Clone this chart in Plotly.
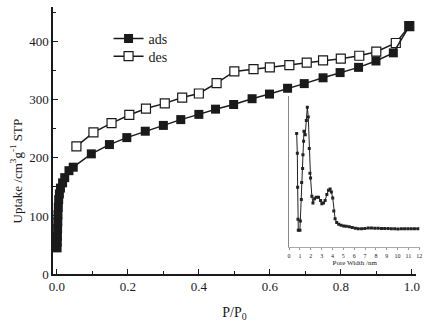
import plotly.graph_objects as go

# Main isotherm data
ads_x = [0.0005, 0.001, 0.0015, 0.002, 0.0025, 0.003, 0.004, 0.005, 0.007, 0.010, 0.016, 0.022, 0.034, 0.046,
         0.097, 0.148, 0.197, 0.249, 0.300, 0.349, 0.400, 0.447, 0.498, 0.550, 0.599, 0.650, 0.697, 0.750,
         0.798, 0.850, 0.899, 0.948, 0.993]
ads_y = [45, 55, 65, 78, 90, 102, 115, 128, 138, 148, 157, 166, 178, 184,
         207, 223, 235, 246, 256, 266, 275, 284, 292, 302, 310, 320, 328, 338,
         347, 356, 367, 381, 427]

des_x = [0.993, 0.955, 0.900, 0.852, 0.800, 0.750, 0.704, 0.655, 0.600, 0.554, 0.500, 0.450,
         0.400, 0.353, 0.304, 0.251, 0.204, 0.154, 0.103, 0.055]
des_y = [427, 398, 383, 376, 371, 368, 364, 360, 356, 353, 349, 329,
         311, 304, 294, 285, 274, 260, 244, 220]

# Inset pore size distribution
pw_x = [0.70, 0.76, 0.79, 0.82, 0.85, 1.00, 1.04, 1.13, 1.16, 1.25, 1.28, 1.34, 1.37, 1.49, 1.59, 1.68,
        1.77, 1.86, 1.92, 1.98, 2.10, 2.20, 2.35, 2.50, 2.71, 2.90, 3.02, 3.17, 3.32, 3.48, 3.63, 3.78,
        3.90, 4.02, 4.12, 4.24, 4.39, 4.57, 4.79, 5.03, 5.27, 5.55, 5.82, 6.10, 6.37, 6.68, 6.98, 7.29,
        7.59, 7.90, 8.20, 8.51, 8.81, 9.12, 9.42, 9.73, 10.03, 10.34, 10.64, 10.95, 11.25, 11.55, 11.86]
pw_y = [0.750, 0.620, 0.396, 0.185, 0.113, 0.113, 0.174, 0.315, 0.428, 0.520, 0.610, 0.700, 0.765, 0.743,
        0.837, 0.924, 0.859, 0.652, 0.489, 0.457, 0.337, 0.293, 0.320, 0.330, 0.330, 0.309, 0.287, 0.293,
        0.309, 0.348, 0.376, 0.385, 0.365, 0.326, 0.239, 0.189, 0.163, 0.152, 0.146, 0.141, 0.139, 0.135,
        0.130, 0.126, 0.122, 0.122, 0.124, 0.128, 0.128, 0.126, 0.126, 0.124, 0.124, 0.124, 0.122, 0.122,
        0.120, 0.122, 0.122, 0.122, 0.122, 0.122, 0.122]

x_ticks = [0.0, 0.2, 0.4, 0.6, 0.8, 1.0]
x_ticklabels = ["0.0", "0.2", "0.4", "0.6", "0.8", "1.0"]
y_ticks = [0, 100, 200, 300, 400]
inset_ticks = list(range(0, 13))

FONT = "Liberation Serif"

W, H = 432, 325
L, R, T, B = 53, 8, 7, 48
pw = W - L - R
ph = H - T - B

def px_x(p):
    return (p - L) / pw

def px_y(p):
    return (H - B - p) / ph

fig = go.Figure()
fig.add_trace(go.Scatter(
    x=des_x, y=des_y, name="des", mode="lines+markers", legend="legend2",
    line=dict(color="#1a1a1a", width=1.5),
    marker=dict(symbol="square", size=9, color="white", line=dict(color="#1a1a1a", width=1.2)),
))
fig.add_trace(go.Scatter(
    x=ads_x, y=ads_y, name="ads", mode="lines+markers", legend="legend",
    line=dict(color="#1a1a1a", width=1.5),
    marker=dict(symbol="square", size=9, color="#1a1a1a", line=dict(color="#1a1a1a", width=0)),
))
fig.add_trace(go.Scatter(
    x=pw_x, y=pw_y, xaxis="x2", yaxis="y2", mode="lines+markers", showlegend=False,
    line=dict(color="#222", width=1),
    marker=dict(symbol="square", size=3, color="#222"),
))

leg_common = dict(xanchor="left", yanchor="top", bgcolor="rgba(0,0,0,0)",
                  font=dict(size=14, family=FONT))

fig.update_layout(
    width=W, height=H,
    margin=dict(l=L, r=R, t=T, b=B),
    paper_bgcolor="white", plot_bgcolor="white",
    font=dict(family=FONT, color="#1a1a1a", size=13),
    showlegend=True,
    legend=dict(x=px_x(109), y=px_y(23), **leg_common),
    legend2=dict(x=px_x(109), y=px_y(41), **leg_common),
    xaxis=dict(
        domain=[0, px_x(419)], range=[-0.011, 1.012],
        tickvals=x_ticks, ticktext=x_ticklabels,
        ticks="inside", ticklen=5, tickwidth=1.2, tickcolor="#1a1a1a",
        minor=dict(dtick=0.1, ticks="inside", ticklen=3, tickcolor="#1a1a1a", showgrid=False),
        showline=True, linecolor="#1a1a1a", linewidth=1.5,
        showgrid=False, zeroline=False,
        tickfont=dict(size=13, family=FONT),
        title=dict(text="P/P<sub>0</sub>", font=dict(size=14, family=FONT), standoff=14),
    ),
    yaxis=dict(
        range=[0, 460],
        tickvals=y_ticks,
        ticks="inside", ticklen=5, tickwidth=1.2, tickcolor="#1a1a1a",
        minor=dict(dtick=50, ticks="inside", ticklen=3, tickcolor="#1a1a1a", showgrid=False),
        showline=True, linecolor="#1a1a1a", linewidth=1.5,
        showgrid=False, zeroline=False,
        tickfont=dict(size=13, family=FONT),
    ),
    xaxis2=dict(
        domain=[px_x(291), px_x(423.4)], range=[0, 12.1], anchor="y2",
        tickvals=inset_ticks, ticks="outside", ticklen=2, tickcolor="#999",
        showline=True, linecolor="#aaa", linewidth=1,
        showgrid=False, zeroline=False,
        tickfont=dict(size=6, family=FONT), ticklabelstandoff=0,
        title=dict(text="Pore Width /nm", font=dict(size=7, family=FONT), standoff=2),
    ),
    yaxis2=dict(
        domain=[px_y(250), px_y(96.7)], range=[0, 1], anchor="x2",
        showline=True, linecolor="#888", linewidth=1,
        showticklabels=False, ticks="", showgrid=False, zeroline=False,
    ),
    annotations=[dict(
        text="Uptake /cm<sup>3</sup>g<sup>-1</sup> STP", textangle=-90,
        xref="paper", yref="paper", x=px_x(16), y=px_y(173),
        xanchor="center", yanchor="middle", showarrow=False,
        font=dict(size=13, family=FONT, color="#1a1a1a"),
    )],
)

fig.write_html("out.html")
